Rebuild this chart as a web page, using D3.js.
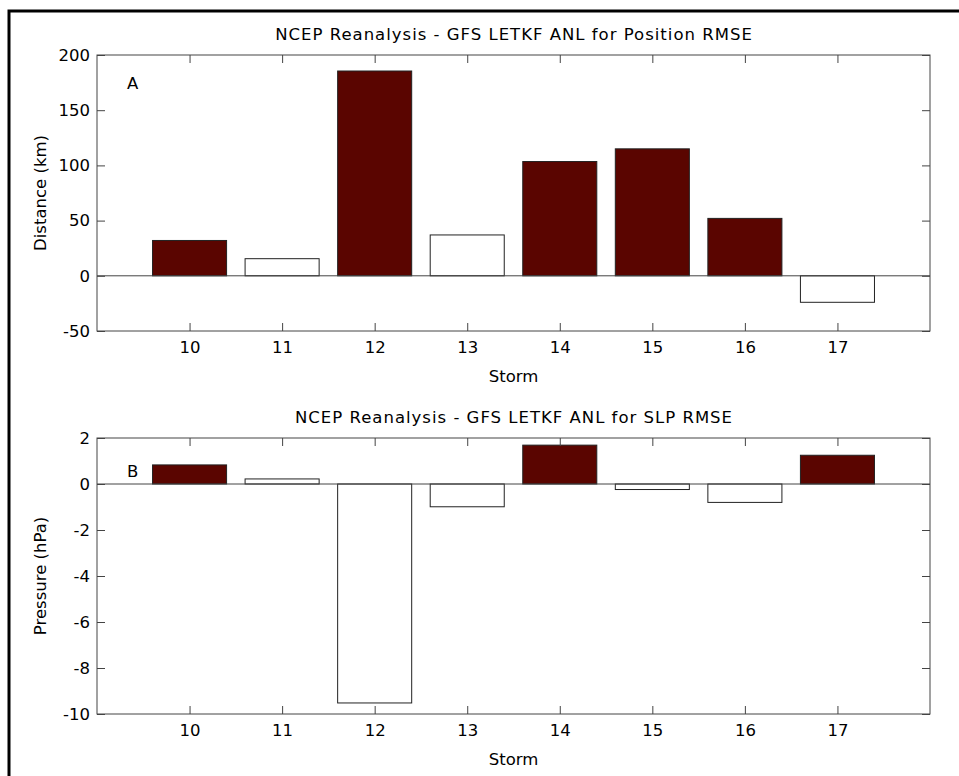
<!DOCTYPE html>
<html>
<head>
<meta charset="utf-8">
<script src="https://cdn.jsdelivr.net/npm/d3@7"></script>
<style>
  body { margin: 0; background: #fff; }
  svg { display: block; font-family: "DejaVu Sans", sans-serif; }
</style>
</head>
<body>
<svg id="chart" width="959" height="776"></svg>
<script>
// storms on the x axis
const storms = [10, 11, 12, 13, 14, 15, 16, 17];

// panel A: position RMSE difference (km)
const positionDiff = [32, 15.5, 185.5, 37, 103.5, 115, 52, -24];
const positionFilled = [true, false, true, false, true, true, true, false];
const positionTicks = [-50, 0, 50, 100, 150, 200];

// panel B: SLP RMSE difference (hPa)
const slpDiff = [0.83, 0.22, -9.52, -0.99, 1.69, -0.24, -0.8, 1.25];
const slpFilled = [true, false, false, false, true, false, false, true];
const slpTicks = [-10, -8, -6, -4, -2, 0, 2];

const svg = d3.select("#chart");
const fontSize = 16.5;

// figure frame (only left and top show in the picture)
svg.append("path")
    .attr("d", "M9,776V11H959")
    .attr("fill", "none")
    .attr("stroke", "#000")
    .attr("stroke-width", 3);

const left = 97, right = 930;
const barColor = "#5a0500";
const axisColor = "#444";

function panel(opt) {
    const x = d3.scaleLinear().domain([9, 18]).range([left, right]);
    const y = d3.scaleLinear().domain(opt.domain).range([opt.bottom, opt.top]);
    const g = svg.append("g");

    // title
    g.append("text")
        .attr("x", (left + right) / 2 + 0.5)
        .attr("y", opt.top - 15)
        .attr("text-anchor", "middle")
        .attr("font-size", fontSize)
        .attr("letter-spacing", 1)
        .text(opt.title);

    // bars
    g.append("g").selectAll("rect")
        .data(opt.values)
        .join("rect")
        .attr("x", (d, i) => x(storms[i] - 0.4))
        .attr("width", x(storms[0] + 0.4) - x(storms[0] - 0.4))
        .attr("y", d => y(Math.max(0, d)))
        .attr("height", d => Math.abs(y(d) - y(0)))
        .attr("fill", (d, i) => opt.filled[i] ? barColor : "#fff")
        .attr("stroke", "#222")
        .attr("stroke-width", 1);

    // zero line
    g.append("line")
        .attr("x1", left).attr("x2", right)
        .attr("y1", y(0)).attr("y2", y(0))
        .attr("stroke", axisColor)
        .attr("stroke-width", 1);

    // axes, MATLAB style: box with inward ticks
    const ax = (sel) => {
        sel.select(".domain").remove();
        sel.selectAll("line").attr("stroke", axisColor);
        sel.selectAll("text").attr("fill", "#000").attr("font-size", fontSize)
            .attr("font-family", "'DejaVu Sans', sans-serif");
    };
    const plain = d => String(d);
    g.append("g")
        .attr("transform", `translate(0,${opt.bottom})`)
        .call(d3.axisBottom(x).tickValues(storms).tickSize(-8).tickPadding(10).tickFormat(plain))
        .call(ax);
    g.append("g")
        .attr("transform", `translate(0,${opt.top})`)
        .call(d3.axisTop(x).tickValues(storms).tickSize(-8).tickFormat(""))
        .call(ax);
    g.append("g")
        .attr("transform", `translate(${left},0)`)
        .call(d3.axisLeft(y).tickValues(opt.ticks).tickSize(-8).tickPadding(7).tickFormat(plain))
        .call(ax);
    g.append("g")
        .attr("transform", `translate(${right},0)`)
        .call(d3.axisRight(y).tickValues(opt.ticks).tickSize(-8).tickFormat(""))
        .call(ax);

    g.append("rect")
        .attr("x", left).attr("y", opt.top)
        .attr("width", right - left).attr("height", opt.bottom - opt.top)
        .attr("fill", "none")
        .attr("stroke", axisColor)
        .attr("stroke-width", 1);

    // panel letter
    g.append("text")
        .attr("x", 127).attr("y", opt.top + opt.letterDy)
        .attr("font-size", fontSize)
        .text(opt.letter);

    // axis labels
    g.append("text")
        .attr("x", (left + right) / 2)
        .attr("y", opt.bottom + 51)
        .attr("text-anchor", "middle")
        .attr("font-size", fontSize)
        .text("Storm");
    g.append("text")
        .attr("transform", `translate(46,${(opt.top + opt.bottom) / 2}) rotate(-90)`)
        .attr("text-anchor", "middle")
        .attr("font-size", fontSize)
        .text(opt.ylabel);
}

panel({
    title: "NCEP Reanalysis - GFS LETKF ANL for Position RMSE",
    values: positionDiff, filled: positionFilled, ticks: positionTicks,
    domain: [-50, 200], top: 55, bottom: 331,
    letter: "A", letterDy: 34, ylabel: "Distance (km)"
});

panel({
    title: "NCEP Reanalysis - GFS LETKF ANL for SLP RMSE",
    values: slpDiff, filled: slpFilled, ticks: slpTicks,
    domain: [-10, 2], top: 438, bottom: 714,
    letter: "B", letterDy: 39, ylabel: "Pressure (hPa)"
});
</script>
</body>
</html>
